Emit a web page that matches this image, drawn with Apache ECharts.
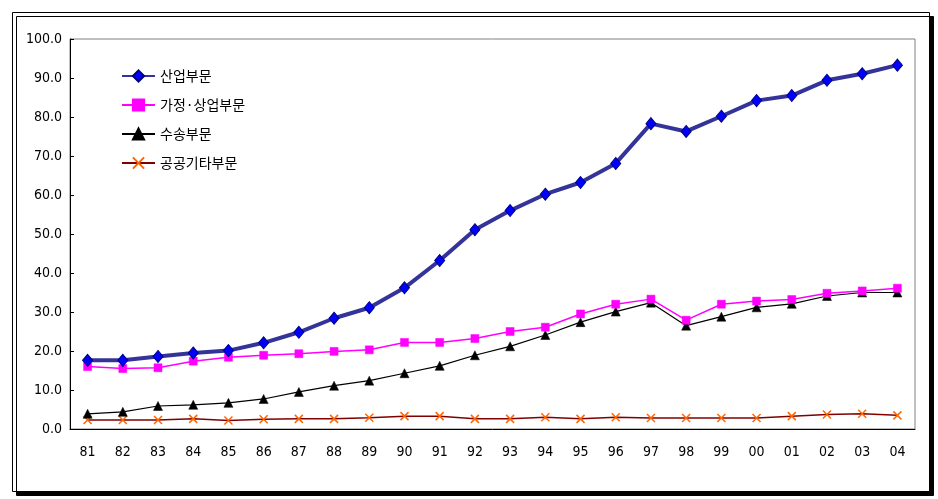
<!DOCTYPE html>
<html>
<head>
<meta charset="utf-8">
<script src="https://cdn.jsdelivr.net/npm/echarts@6/dist/echarts.min.js"></script>
<style>
html,body{margin:0;padding:0;background:#fff;}
#chart{width:938px;height:499px;}
</style>
</head>
<body>
<div id="chart"></div>
<script>
const years = ['81','82','83','84','85','86','87','88','89','90','91','92','93','94','95','96','97','98','99','00','01','02','03','04'];
const industry = [17.6,17.6,18.6,19.5,20.1,22.1,24.8,28.4,31.1,36.2,43.2,51.1,56.0,60.2,63.2,68.1,78.3,76.3,80.2,84.2,85.5,89.4,91.1,93.3];
const household = [16.0,15.5,15.7,17.4,18.4,18.9,19.3,19.9,20.3,22.2,22.2,23.2,25.0,26.1,29.5,32.0,33.3,27.9,32.0,32.8,33.2,34.8,35.4,36.1];
const transport = [3.9,4.4,5.9,6.2,6.7,7.7,9.5,11.1,12.4,14.3,16.2,18.9,21.2,24.1,27.4,30.1,32.4,26.5,28.8,31.2,32.1,34.1,35.0,35.0];
const publicEtc = [2.3,2.3,2.3,2.6,2.2,2.5,2.6,2.6,2.9,3.3,3.3,2.6,2.6,3.0,2.6,3.0,2.8,2.8,2.8,2.8,3.3,3.7,3.9,3.5];
const seriesNames = ['산업부문','가정·상업부문','수송부문','공공기타부문'];
const yTicks = {min:0, max:100, interval:10};

const chart = echarts.init(document.getElementById('chart'), null, {renderer:'canvas'});
const labelFont = "'DejaVu Sans Condensed','Liberation Sans Narrow','Liberation Sans',Arial,sans-serif";
const xPath = 'path://M0,0L10,10M10,0L0,10';
chart.setOption({
  animation:false,
  backgroundColor:'#fff',
  graphic:[{
    type:'rect', z:-10,
    shape:{x:12.5,y:12.5,width:917,height:479},
    style:{fill:'#fff',stroke:'#000',lineWidth:1,shadowColor:'#000',shadowBlur:0,shadowOffsetX:4,shadowOffsetY:4}
  }],
  grid:{left:70,right:23,top:39,bottom:70,show:true,borderColor:'#808080',borderWidth:1,backgroundColor:'transparent'},
  legend:{
    orient:'vertical', left:121, top:69, padding:0,
    itemWidth:33, itemHeight:14, itemGap:15,
    textStyle:{fontFamily:"'Noto Sans CJK KR',sans-serif",fontSize:14,color:'#000',lineHeight:14},
    data:seriesNames
  },
  xAxis:{
    type:'category', data:years, boundaryGap:true,
    axisLine:{lineStyle:{color:'#000',width:1}},
    axisTick:{inside:true,length:4,lineStyle:{color:'#000'}},
    axisLabel:{margin:16,fontFamily:labelFont,fontSize:14,color:'#000'},
    splitLine:{show:false}
  },
  yAxis:{
    type:'value', min:yTicks.min, max:yTicks.max, interval:yTicks.interval,
    axisLine:{show:true,lineStyle:{color:'#000',width:1}},
    axisTick:{show:true,inside:true,length:4,lineStyle:{color:'#000'}},
    axisLabel:{margin:8,fontFamily:labelFont,fontSize:14,color:'#000',formatter:v=>v.toFixed(1)},
    splitLine:{show:false}
  },
  series:[
    {name:seriesNames[0],type:'line',data:industry,symbol:'diamond',symbolSize:[10,12],
     lineStyle:{color:'#333399',width:4},itemStyle:{color:'#0000FF',borderColor:'#000080',borderWidth:1},z:5},
    {name:seriesNames[1],type:'line',data:household,symbol:'rect',symbolSize:8,
     lineStyle:{color:'#FF00FF',width:1.5},itemStyle:{color:'#FF00FF',borderColor:'#FF00FF',borderWidth:0.5},z:4},
    {name:seriesNames[2],type:'line',data:transport,symbol:'triangle',symbolSize:9,
     lineStyle:{color:'#000',width:1.2},itemStyle:{color:'#000',borderColor:'#000',borderWidth:0.5},z:3},
    {name:seriesNames[3],type:'line',data:publicEtc,symbol:xPath,symbolSize:8,
     lineStyle:{color:'#800000',width:1.5},itemStyle:{color:'#FF6600',borderColor:'#FF6600',borderWidth:1.5},z:2}
  ]
});
</script>
</body>
</html>
